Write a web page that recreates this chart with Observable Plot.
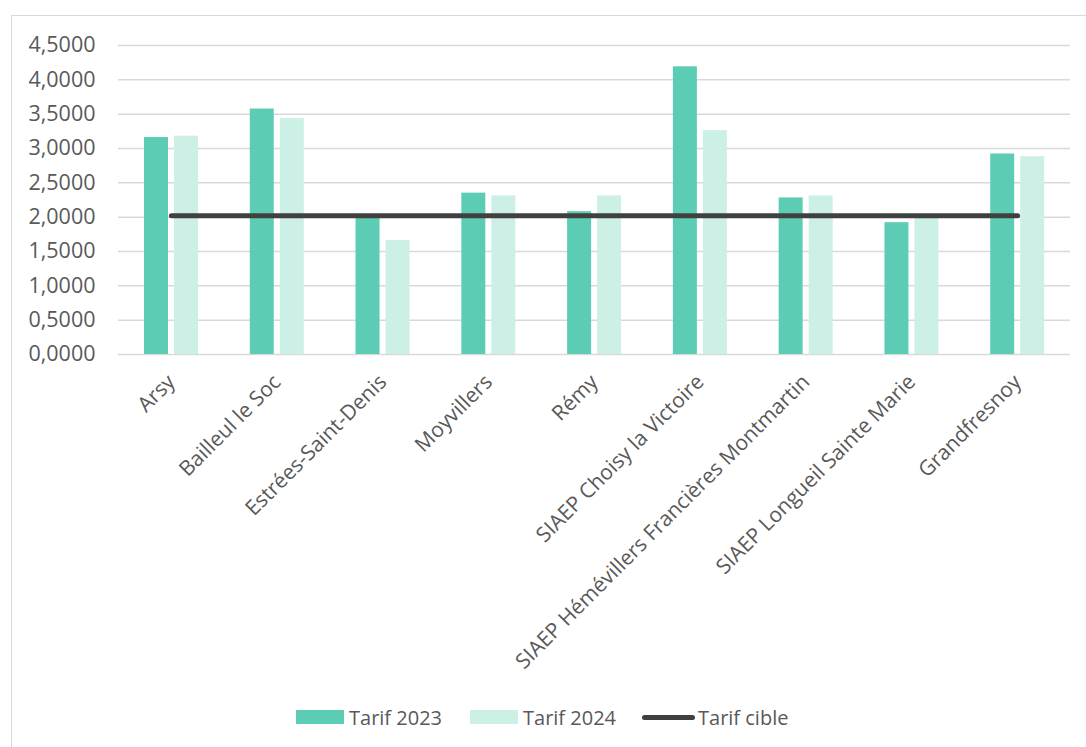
<!DOCTYPE html>
<html>
<head>
<meta charset="utf-8">
<script src="https://cdn.jsdelivr.net/npm/d3@7"></script>
<script src="https://cdn.jsdelivr.net/npm/@observablehq/plot@0.6"></script>
<style>
  html, body { margin: 0; padding: 0; background: #fff; }
  body { width: 1086px; height: 747px; position: relative; overflow: hidden; font-family: "Open Sans", sans-serif; }
  #frame { position: absolute; left: 11px; top: 15px; width: 1100px; height: 760px; border-left: 1.5px solid #d9d9d9; border-top: 1.5px solid #d9d9d9; }
  #chart { position: absolute; left: 0; top: 0; }
  #legend { position: absolute; left: 0; top: 703px; width: 1086px; height: 28px; color: #595959; font-size: 20px; white-space: nowrap; }
  .item { position: absolute; top: 0; height: 28px; display: flex; align-items: center; }
  .sw { width: 48px; height: 14px; margin-right: 5px; }
  .ln { width: 53px; height: 5px; border-radius: 3px; background: #404040; margin-right: 3px; }
</style>
</head>
<body>
<div id="frame"></div>
<div id="chart"></div>
<div id="legend"></div>
<script>
const categories = ["Arsy", "Bailleul le Soc", "Estrées-Saint-Denis", "Moyvillers", "Rémy", "SIAEP Choisy la Victoire", "SIAEP Hémévillers Francières Montmartin", "SIAEP Longueil Sainte Marie", "Grandfresnoy"];
const tarif2023 = [3.16, 3.575, 1.99, 2.35, 2.08, 4.19, 2.28, 1.92, 2.92];
const tarif2024 = [3.18, 3.435, 1.66, 2.31, 2.31, 3.26, 2.31, 2.00, 2.88];
const tarifCible = [2.02, 2.02, 2.02, 2.02, 2.02, 2.02, 2.02, 2.02, 2.02];
const yTicks = [0, 0.5, 1, 1.5, 2, 2.5, 3, 3.5, 4, 4.5];
const seriesNames = ["Tarif 2023", "Tarif 2024", "Tarif cible"];
const colors = ["#5ccdb4", "#ccefe6", "#404040"];

const d23 = categories.map((c, i) => ({cat: c, v: tarif2023[i]}));
const d24 = categories.map((c, i) => ({cat: c, v: tarif2024[i]}));
const dC = categories.map((c, i) => ({cat: c, v: tarifCible[i]}));

const fmt = d => d3.format(".4f")(d).replace(".", ",");

const plot = Plot.plot({
  width: 1086,
  height: 700,
  marginLeft: 118,
  marginRight: 16,
  marginTop: 45,
  marginBottom: 346,
  style: {fontFamily: "Open Sans, sans-serif", fontSize: "21px", color: "#595959", background: "transparent", overflow: "visible"},
  x: {domain: categories, padding: 0, round: false, label: null},
  y: {domain: [0, 4.5], label: null},
  marks: [
    Plot.gridY(yTicks, {stroke: "#d9d9d9", strokeOpacity: 1, strokeWidth: 1.5}),
    Plot.barY(d23, {x: "cat", y: "v", fill: colors[0], insetLeft: 26, insetRight: 55.8}),
    Plot.barY(d24, {x: "cat", y: "v", fill: colors[1], insetLeft: 56, insetRight: 25.8}),
    Plot.lineY(dC, {x: "cat", y: "v", stroke: colors[2], strokeWidth: 5, strokeLinecap: "round"}),
    Plot.axisY({ticks: yTicks, tickFormat: fmt, tickSize: 0, tickPadding: 23, fill: "#595959", fontSize: 21.5}),
    Plot.axisX({tickSize: 0, tickRotate: -45, tickPadding: 24, fill: "#595959", fontSize: 21})
  ]
});
document.getElementById("chart").appendChild(plot);

const legend = document.getElementById("legend");
const legendLeft = [296, 470, 642];
seriesNames.forEach((name, i) => {
  const item = document.createElement("div");
  item.className = "item";
  item.style.left = legendLeft[i] + "px";
  const sw = document.createElement("div");
  if (i < 2) { sw.className = "sw"; sw.style.background = colors[i]; }
  else { sw.className = "ln"; }
  const t = document.createElement("span");
  t.textContent = name;
  item.appendChild(sw);
  item.appendChild(t);
  legend.appendChild(item);
});
</script>
</body>
</html>
